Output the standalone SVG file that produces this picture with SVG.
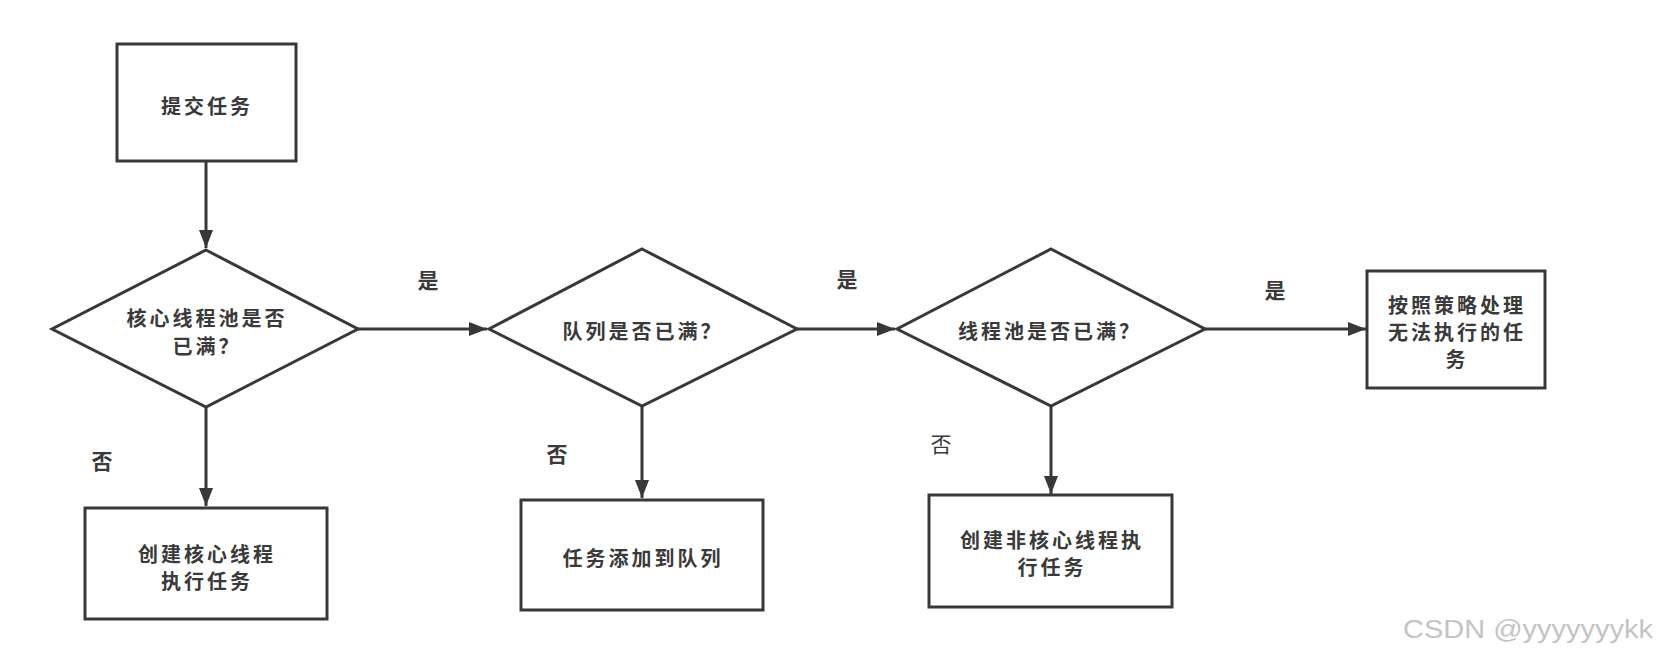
<svg xmlns="http://www.w3.org/2000/svg" width="1657" height="659" viewBox="0 0 1657 659">
<style>
.shape{fill:#fff;stroke:#383838;stroke-width:3}
.line{fill:none;stroke:#383838;stroke-width:3}
.t{font-family:"Noto Sans CJK SC","Noto Sans",sans-serif;font-size:20px;font-weight:bold;fill:#3a3a3a;text-anchor:middle;dominant-baseline:central;letter-spacing:3px}
.lbl{font-family:"Noto Sans CJK SC","Noto Sans",sans-serif;font-size:21px;font-weight:bold;fill:#3a3a3a;text-anchor:middle;dominant-baseline:central}
.wm{font-family:"Liberation Sans",Arial,sans-serif;font-size:26px;fill:#c4c4c4}
</style>
<defs>
<marker id="arr" viewBox="0 0 18 14" refX="18" refY="7" markerWidth="18" markerHeight="14" markerUnits="userSpaceOnUse" orient="auto">
<path d="M0,0 L18,7 L0,14 Z" fill="#383838"/>
</marker>
</defs>
<rect width="1657" height="659" fill="#fff"/>
<g id="connectors">
<line class="line" x1="206" y1="161" x2="206" y2="248" marker-end="url(#arr)"/>
<line class="line" x1="206" y1="407" x2="206" y2="506" marker-end="url(#arr)"/>
<line class="line" x1="358" y1="329" x2="487" y2="329" marker-end="url(#arr)"/>
<line class="line" x1="642" y1="406" x2="642" y2="498" marker-end="url(#arr)"/>
<line class="line" x1="797" y1="329" x2="895" y2="329" marker-end="url(#arr)"/>
<line class="line" x1="1051" y1="406" x2="1051" y2="494" marker-end="url(#arr)"/>
<line class="line" x1="1205" y1="329" x2="1366" y2="329" marker-end="url(#arr)"/>
<text class="lbl" x="428" y="279">是</text>
<text class="lbl" x="847" y="278">是</text>
<text class="lbl" x="1275" y="289">是</text>
<text class="lbl" x="102" y="460">否</text>
<text class="lbl" x="557" y="453">否</text>
<text class="lbl" x="941" y="443" style="font-weight:normal">否</text>
</g>
<g id="submit">
<rect class="shape" x="117" y="44" width="179" height="117"/>
<text class="t" x="207" y="105">提交任务</text>
</g>
<g id="core-full">
<polygon class="shape" points="206,250 358,329 206,407 52,329"/>
<text class="t" x="207" y="317">核心线程池是否<tspan x="207" dy="28">已满？</tspan></text>
</g>
<g id="create-core">
<rect class="shape" x="85" y="508" width="242" height="111"/>
<text class="t" x="207" y="553">创建核心线程<tspan x="207" dy="27">执行任务</tspan></text>
</g>
<g id="queue-full">
<polygon class="shape" points="642,249 797,329 642,406 489,329"/>
<text class="t" x="643" y="330">队列是否已满？</text>
</g>
<g id="add-queue">
<rect class="shape" x="521" y="500" width="242" height="110"/>
<text class="t" x="643" y="557">任务添加到队列</text>
</g>
<g id="pool-full">
<polygon class="shape" points="1051,249 1205,329 1051,406 897,329"/>
<text class="t" x="1050" y="330">线程池是否已满？</text>
</g>
<g id="create-noncore">
<rect class="shape" x="929" y="495" width="243" height="112"/>
<text class="t" x="1052" y="539">创建非核心线程执<tspan x="1052" dy="27">行任务</tspan></text>
</g>
<g id="reject">
<rect class="shape" x="1367" y="271" width="178" height="117"/>
<text class="t" x="1457" y="304">按照策略处理<tspan x="1457" dy="27">无法执行的任</tspan><tspan x="1457" dy="27">务</tspan></text>
</g>
<text class="wm" x="1403" y="638" textLength="250" lengthAdjust="spacingAndGlyphs">CSDN @yyyyyyykk</text>
</svg>
